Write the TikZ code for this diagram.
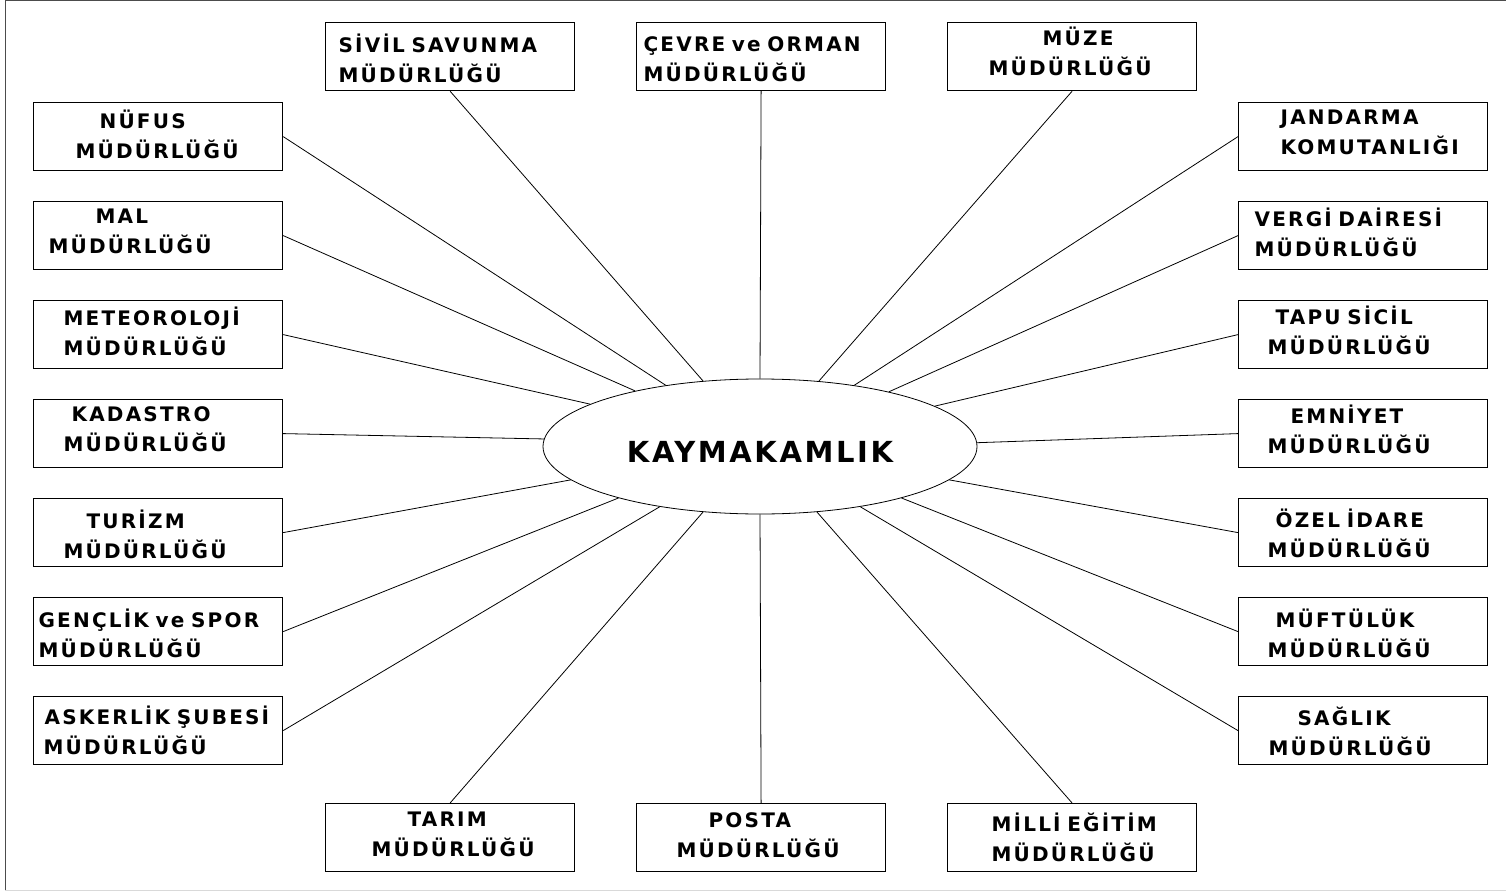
\documentclass[tikz,border=0pt]{standalone}
\usepackage{fontspec}
\setmainfont{DejaVu Sans}
\newfontfamily\boxfont{DejaVu Sans}[LetterSpace=11]
\newfontfamily\hubfont{DejaVu Sans}[LetterSpace=9]
\usetikzlibrary{shapes.geometric}
\setlength{\parindent}{0pt}

\begin{document}
\begin{tikzpicture}[
  x=1pt, y=-1pt,
  unit/.style={
    draw,
    line width=1.2pt,
    anchor=north west,
    minimum width=249pt,
    minimum height=68pt,
    text width=249pt,
    inner sep=0pt,
    align=left,
    text height=#1,
    text depth=36pt,
    font=\boxfont\bfseries\fontsize{20}{30}\selectfont
  },
  hub/.style={
    draw,
    ellipse,
    line width=0.8pt,
    minimum width=434pt,
    minimum height=135pt,
    inner sep=0pt,
    text height=31pt,
    text depth=0pt,
    font=\hubfont\bfseries\fontsize{29}{34}\selectfont
  },
  link/.style={line width=0.8pt}
]
\useasboundingbox (0,0) rectangle (1506,893);
\draw[line width=1pt, black!70] (5,890) -- (5,1) -- (1506,1);
\draw[line width=1pt, black!15] (5,890) -- (1506,890);

\node[hub] (kay) at (760,446.5) {KAYMAKAMLIK};

\node[unit=20pt] (nufus) at (33,102) {\hspace*{66pt}NÜFUS\\\hspace*{42pt}MÜDÜRLÜĞÜ};
\node[unit=12pt] (mal) at (33,201) {\hspace*{62pt}MAL\\\hspace*{15pt}MÜDÜRLÜĞÜ};
\node[unit=18pt] (meteo) at (33,300) {\hspace*{30pt}METEOROLOJİ\\\hspace*{30pt}MÜDÜRLÜĞÜ};
\node[unit=12pt] (kadastro) at (33,399) {\hspace*{38pt}KADASTRO\\\hspace*{30pt}MÜDÜRLÜĞÜ};
\node[unit=28pt] (turizm) at (33,498) {\hspace*{53pt}TURİZM\\\hspace*{30pt}MÜDÜRLÜĞÜ};
\node[unit=28pt] (genclik) at (33,597) {\hspace*{5pt}GENÇLİK ve SPOR\\\hspace*{5pt}MÜDÜRLÜĞÜ};
\node[unit=24pt] (askerlik) at (33,696) {\hspace*{11pt}ASKERLİK ŞUBESİ\\\hspace*{10pt}MÜDÜRLÜĞÜ};

\node[unit=12pt] (jandarma) at (1238,102) {\hspace*{42pt}JANDARMA\\\hspace*{42pt}KOMUTANLIĞI};
\node[unit=18pt] (vergi) at (1238,201) {\hspace*{16pt}VERGİ DAİRESİ\\\hspace*{16pt}MÜDÜRLÜĞÜ};
\node[unit=16pt] (tapu) at (1238,300) {\hspace*{37pt}TAPU SİCİL\\\hspace*{29pt}MÜDÜRLÜĞÜ};
\node[unit=16pt] (emniyet) at (1238,399) {\hspace*{52pt}EMNİYET\\\hspace*{29pt}MÜDÜRLÜĞÜ};
\node[unit=26pt] (ozel) at (1238,498) {\hspace*{37pt}ÖZEL İDARE\\\hspace*{29pt}MÜDÜRLÜĞÜ};
\node[unit=28pt] (muftuluk) at (1238,597) {\hspace*{37pt}MÜFTÜLÜK\\\hspace*{29pt}MÜDÜRLÜĞÜ};
\node[unit=26pt] (saglik) at (1238,696) {\hspace*{59pt}SAĞLIK\\\hspace*{30pt}MÜDÜRLÜĞÜ};

\node[unit=28pt] (sivil) at (325,22) {\hspace*{13pt}SİVİL SAVUNMA\\\hspace*{13pt}MÜDÜRLÜĞÜ};
\node[unit=26pt] (cevre) at (636,22) {\hspace*{7pt}ÇEVRE ve ORMAN\\\hspace*{7pt}MÜDÜRLÜĞÜ};
\node[unit=14pt] (muze) at (947,22) {\hspace*{95pt}MÜZE\\\hspace*{41pt}MÜDÜRLÜĞÜ};

\node[unit=14pt] (tarim) at (325,803) {\hspace*{82pt}TARIM\\\hspace*{46pt}MÜDÜRLÜĞÜ};
\node[unit=16pt] (posta) at (636,803) {\hspace*{72pt}POSTA\\\hspace*{40pt}MÜDÜRLÜĞÜ};
\node[unit=24pt] (milli) at (947,803) {\hspace*{44pt}MİLLİ EĞİTİM\\\hspace*{44pt}MÜDÜRLÜĞÜ};

\draw[link] (nufus.east) -- (kay.147);
\draw[link] (mal.east) -- (kay.156.5);
\draw[link] (meteo.east) -- (kay.166.5);
\draw[link] (kadastro.east) -- (kay.178.5);
\draw[link] (turizm.east) -- (kay.190);
\draw[link] (genclik.east) -- (kay.200.5);
\draw[link] (askerlik.east) -- (kay.211);
\draw[link] (jandarma.west) -- (kay.33);
\draw[link] (vergi.west) -- (kay.23.5);
\draw[link] (tapu.west) -- (kay.13.5);
\draw[link] (emniyet.west) -- (kay.1.5);
\draw[link] (ozel.west) -- (kay.-10);
\draw[link] (muftuluk.west) -- (kay.-20.5);
\draw[link] (saglik.west) -- (kay.-31);
\draw[link] (sivil.south) -- (kay.131.5);
\draw[link] (cevre.south) -- (kay.90);
\draw[link] (muze.south) -- (kay.48.5);
\draw[link] (tarim.north) -- (kay.229.5);
\draw[link] (posta.north) -- (kay.-90);
\draw[link] (milli.north) -- (kay.-49.5);
\end{tikzpicture}
\end{document}
